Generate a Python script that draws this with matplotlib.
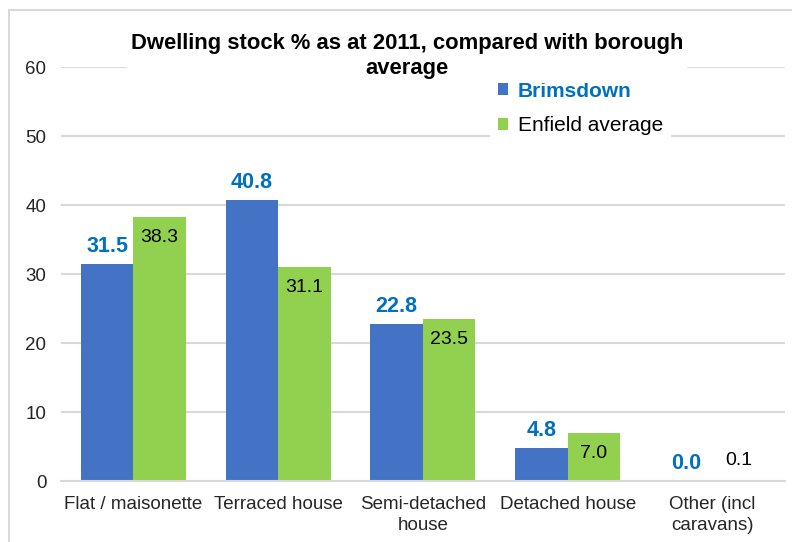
import numpy as np
import matplotlib.pyplot as plt
from matplotlib.patches import Rectangle

categories = ["Flat / maisonette", "Terraced house", "Semi-detached\nhouse",
              "Detached house", "Other (incl\ncaravans)"]
brimsdown = [31.5, 40.8, 22.8, 4.8, 0.0]
enfield = [38.3, 31.1, 23.5, 7.0, 0.1]

BLUE = "#4472C4"
GREEN = "#92D050"
LABEL_BLUE = "#0070C0"
GRID = "#D9D9D9"

plt.rcParams["font.family"] = ["Liberation Sans", "DejaVu Sans"]
plt.rcParams["font.size"] = 13.5

fig = plt.figure(figsize=(7.92, 5.42), dpi=100)
ax = fig.add_axes([0.077, 0.1125, 0.914, 0.763])

x = np.arange(len(categories))
w = 0.3625
b1 = ax.bar(x - w / 2, brimsdown, w, color=BLUE, label="Brimsdown", zorder=2)
b2 = ax.bar(x + w / 2, enfield, w, color=GREEN, label="Enfield average", zorder=2)

for rect, v in zip(b1, brimsdown):
    ax.annotate(f"{v:.1f}", (rect.get_x() + rect.get_width() / 2, v),
                xytext=(0, 5), textcoords="offset points", ha="center", va="bottom",
                color=LABEL_BLUE, fontweight="bold", fontsize=15.5)
for rect, v in zip(b2, enfield):
    off = -15 if v > 3 else 14
    ax.annotate(f"{v:.1f}", (rect.get_x() + rect.get_width() / 2, v),
                xytext=(0, off), textcoords="offset points", ha="center", va="center",
                color="black", fontsize=14)

ax.set_xlim(-0.5, 4.5)
ax.set_ylim(0, 60)
ax.set_yticks(range(0, 61, 10))
ax.set_xticks(x)
ax.set_xticklabels(categories, linespacing=1.3)
ax.yaxis.grid(True, color=GRID, lw=1.5, zorder=0)
ax.set_axisbelow(True)
for s in ["top", "right", "left"]:
    ax.spines[s].set_visible(False)
ax.spines["bottom"].set_color(GRID)
ax.spines["bottom"].set_linewidth(1.5)
ax.tick_params(axis="both", length=0, colors="#262626", labelsize=13.5)
ax.tick_params(axis="y", pad=10.5)
ax.tick_params(axis="x", pad=10.5)

fig.text(0.514, 0.897, "Dwelling stock % as at 2011, compared with borough\naverage",
         ha="center", va="center", fontweight="bold", fontsize=15.8, linespacing=1.25,
         bbox=dict(facecolor="white", edgecolor="none", pad=3))

leg = ax.legend(loc="upper left", bbox_to_anchor=(0.605, 0.884),
                bbox_transform=fig.transFigure, frameon=True, facecolor="white",
                edgecolor="none", framealpha=1, handlelength=0.5, handleheight=0.5,
                handletextpad=0.45, labelspacing=0.75, borderpad=0.4, fancybox=False,
                fontsize=15)
texts = leg.get_texts()
texts[0].set_color(LABEL_BLUE)
texts[0].set_fontweight("bold")

fig.patches.append(Rectangle((0.0114, -0.1), 1.2, 1.0815, transform=fig.transFigure,
                             fill=False, edgecolor=GRID, lw=1.5))

fig.savefig("out.png", dpi=100)
